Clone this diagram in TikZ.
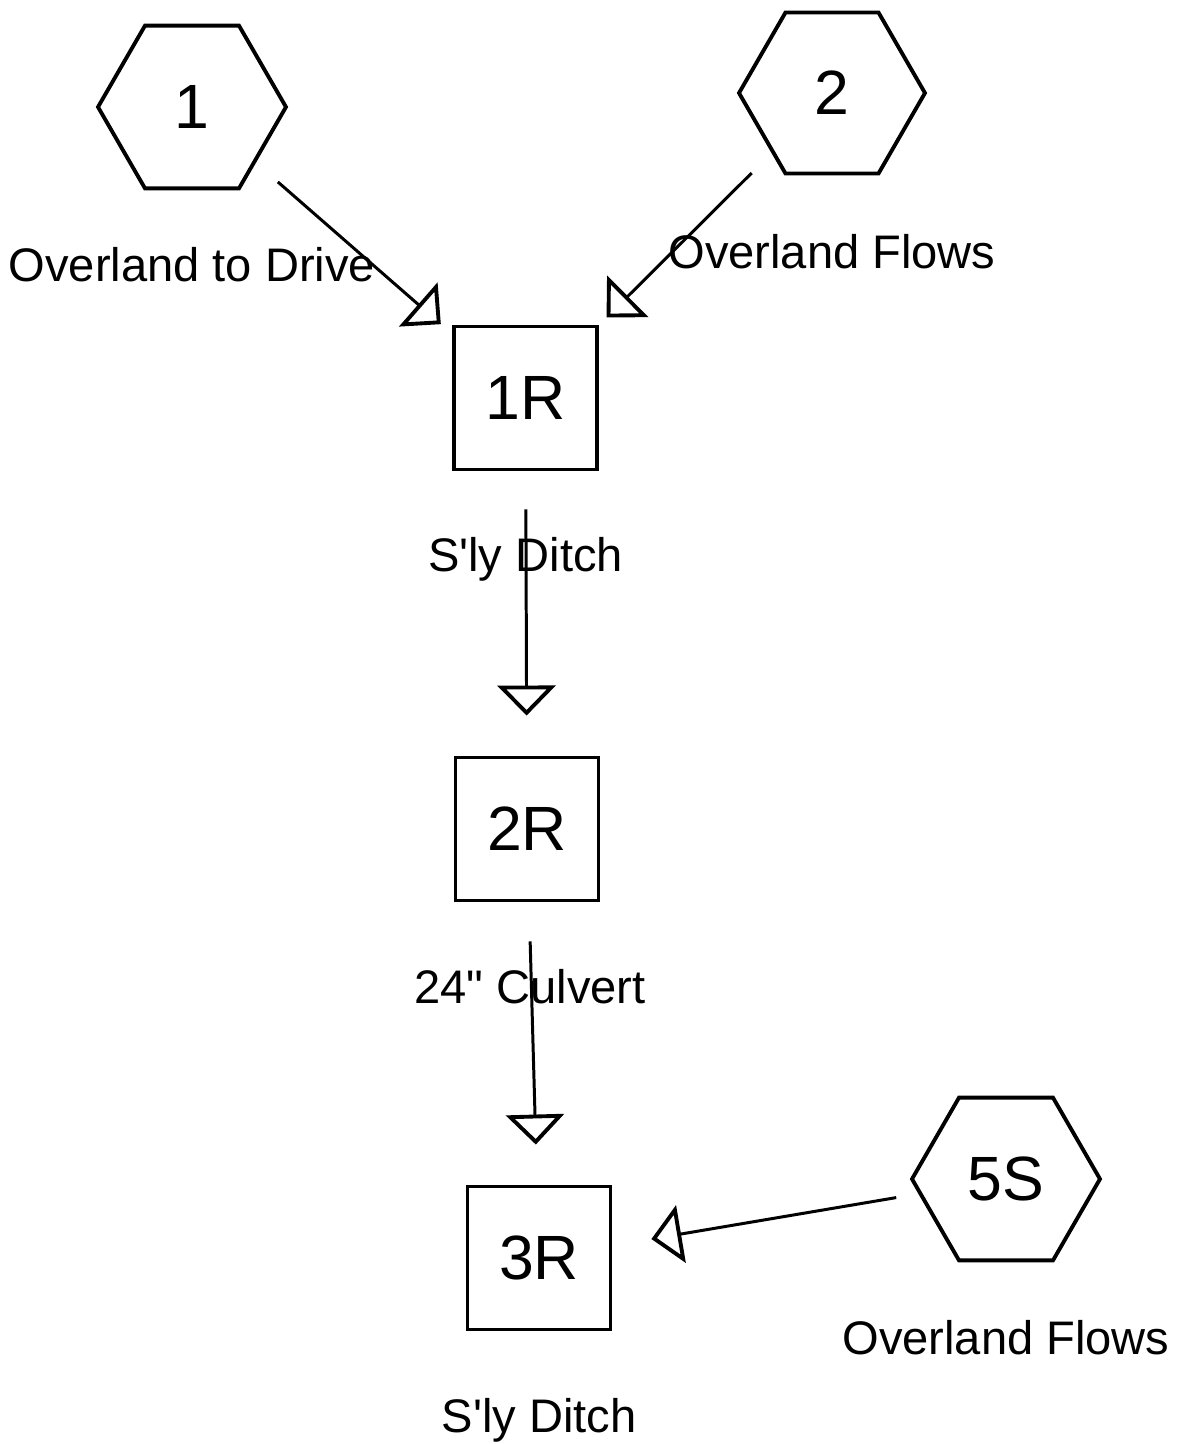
\documentclass[tikz,border=0pt]{standalone}
\usepackage{fontspec}
\setmainfont{Liberation Sans}
\usetikzlibrary{shapes.geometric,arrows.meta,positioning}

\begin{document}
\begin{tikzpicture}[x=0.02cm,y=-0.02cm,every node/.style={outer sep=0pt},
 subcat/.style={draw,line width=2.2pt,regular polygon,regular polygon sides=6,
 minimum size=3.76cm,inner sep=0pt,font=\fontsize{35.6}{40}\selectfont},
 reach/.style={draw,line width=2.2pt,minimum width=2.86cm,minimum height=2.86cm,
 inner sep=0pt,font=\fontsize{35.6}{40}\selectfont},
 tag/.style={inner sep=0pt,font=\fontsize{26.8}{30}\selectfont},
 flow/.style={line width=1.7pt,-{Triangle[open,length=0.6cm,width=1.16cm,line width=2.2pt]}}]

  \useasboundingbox (0,0) rectangle (1177,1444);

  % subcatchments and reaches
  \node[subcat] (h1) at (192,107) {1};
  \node[subcat,minimum size=3.72cm] (h2) at (832,93) {2};
  \node[subcat] (h5) at (1006,1179) {5S};
  \node[reach] (r1) at (525.5,398) {1R};
  \node[reach] (r2) at (527,829) {2R};
  \node[reach] (r3) at (539,1258) {3R};

  \node[tag,below=1.18cm of h1] (t1) {Overland to Drive};
  \node[tag,below=1.21cm of h2] (t2) {Overland Flows};
  \node[tag,below=1.2cm of h5] (t5) {Overland Flows};
  \node[tag,below=1.36cm of r1] (t3) {S\textquotesingle ly Ditch};
  \node[tag,below=1.37cm of r2,xshift=0.06cm] (t4) {24\textquotedbl{} Culvert};
  \node[tag,below=1.38cm of r3] (t6) {S\textquotesingle ly Ditch};

  % routing
  \draw[flow,shorten <=0.62cm,shorten >=0.35cm] (h1) -- (r1);
  \draw[flow,shorten <=0.6cm,shorten >=0.27cm] (h2) -- (r1);
  \draw[flow,shorten <=0.8cm,shorten >=0.84cm] (r1) -- (r2);
  \draw[flow,shorten <=0.82cm,shorten >=0.84cm] (r2) -- (r3);
  \draw[flow,shorten <=0.49cm,shorten >=0.83cm] (h5) -- (r3);

\end{tikzpicture}
\end{document}
